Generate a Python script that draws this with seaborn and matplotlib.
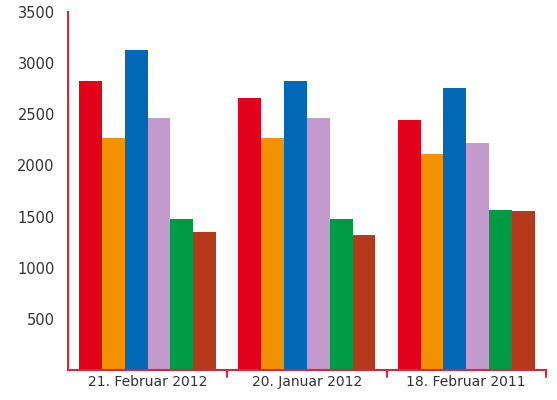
import matplotlib
matplotlib.use("Agg")
import matplotlib.pyplot as plt
import seaborn as sns
import pandas as pd

dates = ["21. Februar 2012", "20. Januar 2012", "18. Februar 2011"]
series = ["A", "B", "C", "D", "E", "F"]
colors = ["#e3001b", "#f39200", "#0068b4", "#c29bcc", "#009a44", "#b5391a"]
values = [
    [2830, 2265, 3125, 2460, 1480, 1345],
    [2655, 2265, 2830, 2460, 1480, 1315],
    [2440, 2110, 2755, 2215, 1560, 1550],
]

rows = []
for d, vals in zip(dates, values):
    for s, v in zip(series, vals):
        rows.append({"date": d, "series": s, "value": v})
df = pd.DataFrame(rows)

sns.set_style("white")
fig = plt.figure(figsize=(5.57, 4.0), dpi=100)
ax = fig.add_axes([0.122, 0.075, 0.858, 0.895])
sns.barplot(data=df, x="date", y="value", hue="series", palette=colors,
            width=0.86, saturation=1, legend=False, linewidth=0,
            gap=0, ax=ax)

red = "#d7263d"
ax.set_ylim(0, 3500)
ax.set_yticks([500, 1000, 1500, 2000, 2500, 3000, 3500])
ax.set_xlim(-0.5, 2.5)
ax.set_xlabel("")
ax.set_ylabel("")
sns.despine(ax=ax)
for sp in ["left", "bottom"]:
    ax.spines[sp].set_color(red)
    ax.spines[sp].set_linewidth(1.5)
ax.tick_params(axis="y", colors=red, labelcolor="#333333", length=6, width=1.5, labelsize=10.5)
ax.tick_params(axis="x", length=0, labelcolor="#333333", labelsize=10)
for xb in [0.5, 1.5, 2.5]:
    ax.plot([xb, xb], [0, -0.02], transform=ax.get_xaxis_transform(),
            color=red, lw=1.5, clip_on=False)

fig.savefig("out.png")
